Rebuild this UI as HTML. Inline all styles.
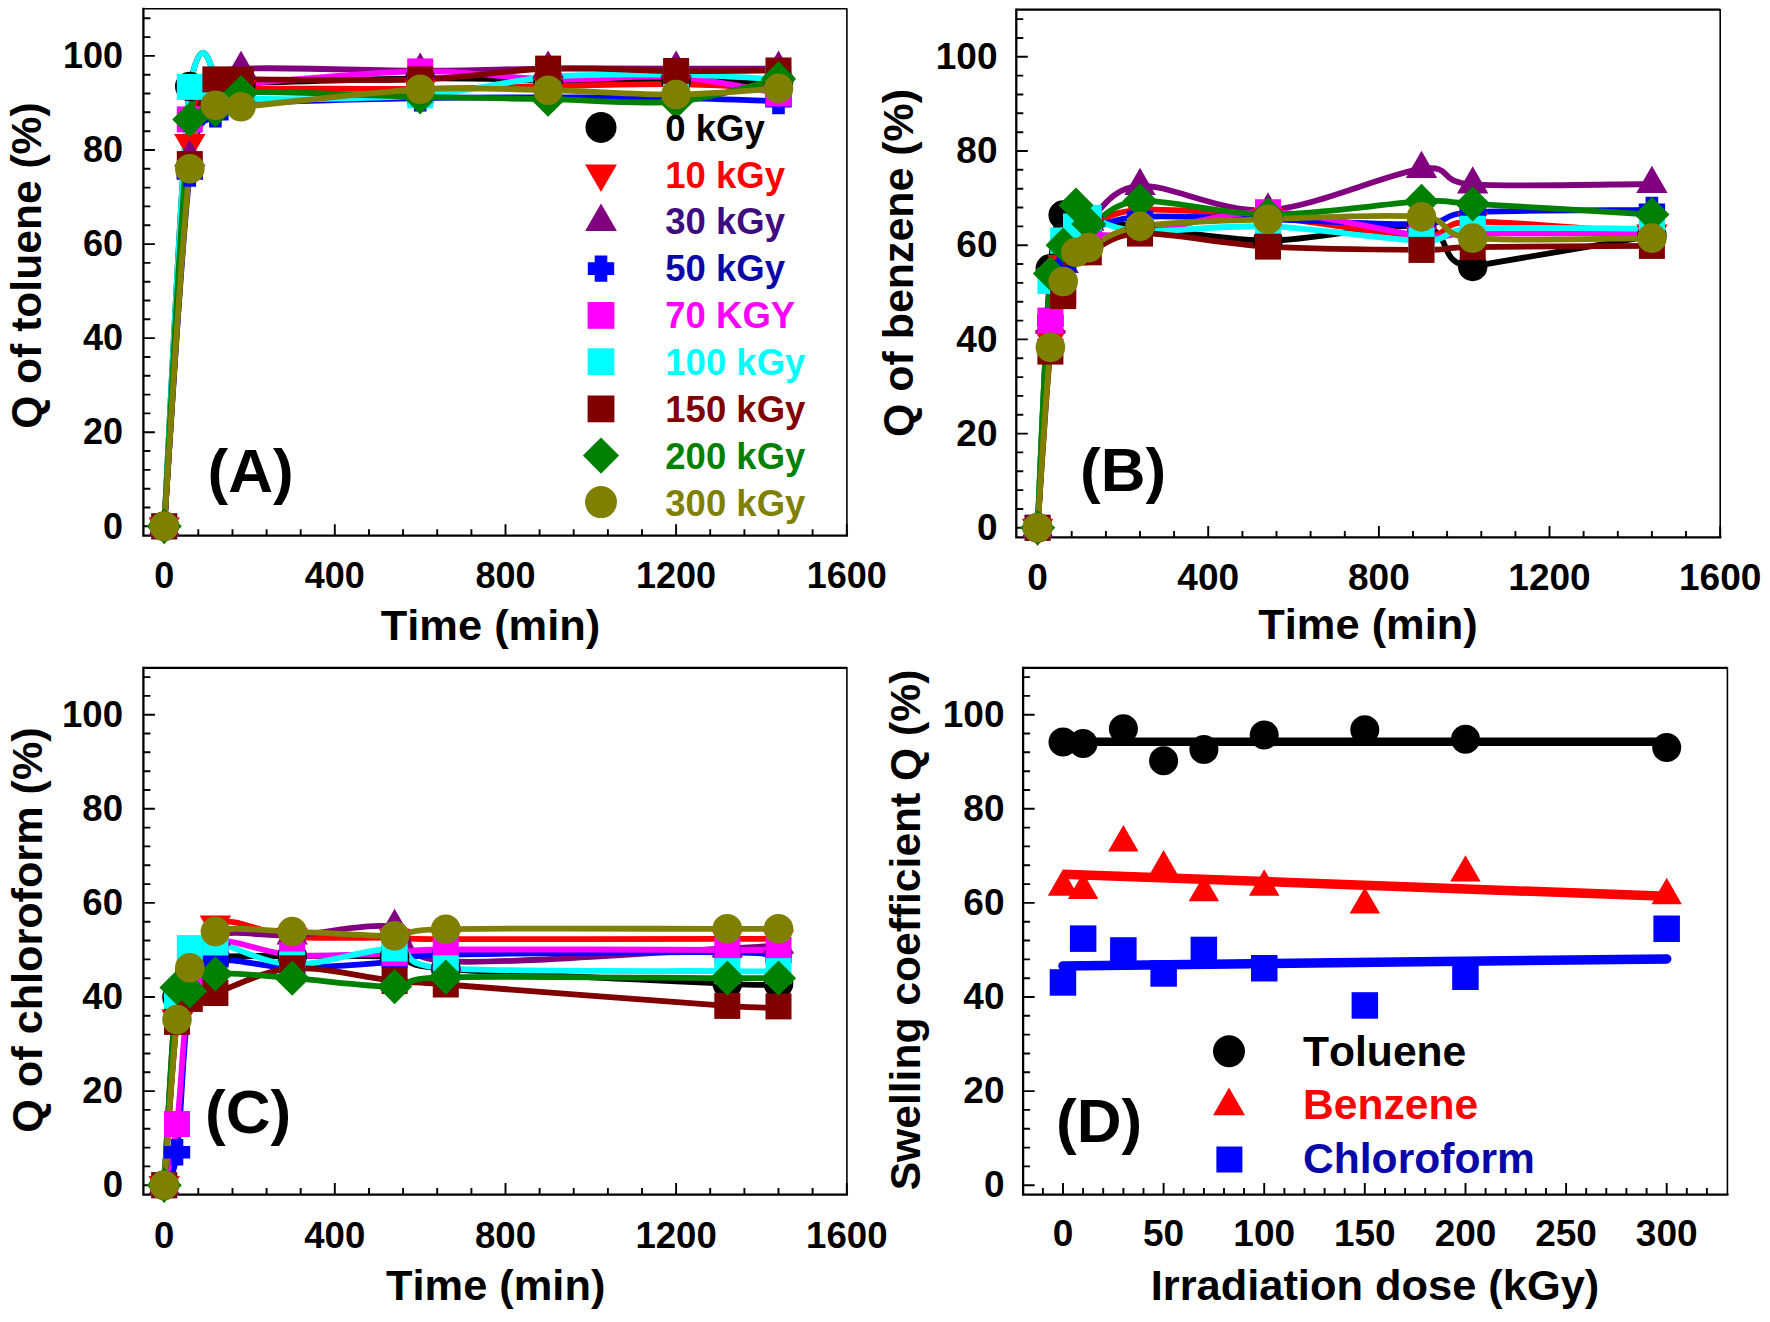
<!DOCTYPE html>
<html><head><meta charset="utf-8"><title>Swelling coefficient Q</title>
<style>html,body{margin:0;padding:0;background:#fff}svg{display:block}text{font-family:'Liberation Sans', Arial, Helvetica, sans-serif;font-weight:bold;fill:#000;font-kerning:none;font-variant-ligatures:none}</style>
</head><body>
<svg width="1770" height="1322" viewBox="0 0 1770 1322">
<rect width="1770" height="1322" fill="#fff"/>
<g id="panelA">
<path d="M143.4,8.8 H846.9" fill="none" stroke="#000" stroke-width="1.4"/>
<path d="M846.9,8.2 V535.7" fill="none" stroke="#000" stroke-width="1.6"/>
<path d="M143.4,8.8 V535.7 H846.9" fill="none" stroke="#000" stroke-width="2.3" stroke-linecap="square"/>
<path d="M143.4,526.3h11.5M143.4,507.5h7M143.4,488.7h7M143.4,469.9h7M143.4,451h7M143.4,432.2h11.5M143.4,413.4h7M143.4,394.6h7M143.4,375.8h7M143.4,357h7M143.4,338.1h11.5M143.4,319.3h7M143.4,300.5h7M143.4,281.7h7M143.4,262.9h7M143.4,244.1h11.5M143.4,225.2h7M143.4,206.4h7M143.4,187.6h7M143.4,168.8h7M143.4,150h11.5M143.4,131.2h7M143.4,112.3h7M143.4,93.5h7M143.4,74.7h7M143.4,55.9h11.5M143.4,37.1h7M143.4,18.3h7M164.2,535.7v-11.5M198.3,535.7v-6.5M232.5,535.7v-6.5M266.6,535.7v-6.5M300.7,535.7v-6.5M334.8,535.7v-11.5M369,535.7v-6.5M403.1,535.7v-6.5M437.2,535.7v-6.5M471.4,535.7v-6.5M505.5,535.7v-11.5M539.6,535.7v-6.5M573.7,535.7v-6.5M607.9,535.7v-6.5M642,535.7v-6.5M676.1,535.7v-11.5M710.2,535.7v-6.5M744.4,535.7v-6.5M778.5,535.7v-6.5M812.6,535.7v-6.5M846.8,535.7v-11.5" stroke="#000" stroke-width="1.9" fill="none"/>
<text x="123" y="538.5" text-anchor="end" font-size="36">0</text>
<text x="123" y="444.4" text-anchor="end" font-size="36">20</text>
<text x="123" y="350.3" text-anchor="end" font-size="36">40</text>
<text x="123" y="256.3" text-anchor="end" font-size="36">60</text>
<text x="123" y="162.2" text-anchor="end" font-size="36">80</text>
<text x="123" y="68.1" text-anchor="end" font-size="36">100</text>
<text x="164.2" y="588.3" text-anchor="middle" font-size="36">0</text>
<text x="334.8" y="588.3" text-anchor="middle" font-size="36">400</text>
<text x="505.5" y="588.3" text-anchor="middle" font-size="36">800</text>
<text x="676.1" y="588.3" text-anchor="middle" font-size="36">1200</text>
<text x="846.8" y="588.3" text-anchor="middle" font-size="36">1600</text>
<text x="490.5" y="640.3" text-anchor="middle" font-size="43.4">Time (min)</text>
<text transform="translate(40.5,265.6) rotate(-90)" text-anchor="middle" font-size="42.6">Q of toluene (%)</text>
<text x="207.5" y="491.7" font-size="62">(A)</text>
<path d="M164.2,526.3 C168.5,453 181.3,160.2 189.8,86.5 C198.3,42 206.9,42 215.4,84.1 C223.9,83.6 206.9,84.1 241,83.2 C275.1,82.2 369,79 420.2,78.5 C471.4,77.9 505.5,79.5 548.1,79.9 C590.8,80.3 637.7,80.5 676.1,80.8 C714.5,81.1 761.4,81.6 778.5,81.8" fill="none" stroke="#000000" stroke-width="5.8" stroke-linejoin="round"/>
<path d="M164.2,526.3 C168.5,462.4 181.3,215.1 189.8,142.9 C198.3,70.8 206.9,102.5 215.4,93.5 C223.9,84.5 206.9,89.6 241,88.8 C275.1,88 369,89.3 420.2,88.8 C471.4,88.4 505.5,86.8 548.1,86 C590.8,85.2 637.7,83.7 676.1,84.1 C714.5,84.6 761.4,88 778.5,88.8" fill="none" stroke="#ff0000" stroke-width="5.8" stroke-linejoin="round"/>
<path d="M164.2,526.3 C168.5,464.8 181.3,231.2 189.8,157.5 C198.3,83.8 206.9,98.9 215.4,84.1 C223.9,69.3 206.9,71.1 241,68.8 C275.1,66.6 369,70.8 420.2,70.7 C471.4,70.7 505.5,69 548.1,68.6 C590.8,68.2 637.7,68.6 676.1,68.6 C714.5,68.6 761.4,68.6 778.5,68.6" fill="none" stroke="#800080" stroke-width="5.8" stroke-linejoin="round"/>
<path d="M164.2,526.3 C168.5,467.5 181.3,242.2 189.8,173.5 C198.3,104.8 206.9,125.9 215.4,114.2 C223.9,102.6 206.9,106.3 241,103.6 C275.1,101 369,99.3 420.2,98.2 C471.4,97.2 505.5,97.3 548.1,97.3 C590.8,97.3 637.7,97.6 676.1,98.2 C714.5,98.9 761.4,100.6 778.5,101.1" fill="none" stroke="#0000ff" stroke-width="5.8" stroke-linejoin="round"/>
<path d="M164.2,526.3 C168.5,458.5 181.3,192.3 189.8,119.4 C198.3,46.5 206.9,94.7 215.4,88.8 C223.9,82.9 206.9,87 241,84.1 C275.1,81.2 369,72.2 420.2,71.4 C471.4,70.6 505.5,78.5 548.1,79.4 C590.8,80.4 637.7,74.7 676.1,77.1 C714.5,79.4 761.4,90.8 778.5,93.5" fill="none" stroke="#ff00ff" stroke-width="5.8" stroke-linejoin="round"/>
<path d="M164.2,526.3 C168.5,453.1 181.3,160.6 189.8,86.9 C198.3,42 206.9,42 215.4,84.1 C223.9,86 206.9,96.4 241,98.2 C275.1,100.1 369,98.9 420.2,95.4 C471.4,91.9 505.5,80.5 548.1,77.1 C590.8,73.6 637.7,74.3 676.1,74.7 C714.5,75.1 761.4,78.6 778.5,79.4" fill="none" stroke="#00ffff" stroke-width="5.8" stroke-linejoin="round"/>
<path d="M164.2,526.3 C168.5,465.9 181.3,238.6 189.8,164.1 C198.3,89.6 206.9,93.5 215.4,79.4 C223.9,65.3 206.9,79.4 241,79.4 C275.1,79.4 369,81.2 420.2,79.4 C471.4,77.6 505.5,70 548.1,68.6 C590.8,67.2 637.7,70.6 676.1,71 C714.5,71.3 761.4,70.6 778.5,70.5" fill="none" stroke="#800000" stroke-width="5.8" stroke-linejoin="round"/>
<path d="M164.2,526.3 C168.5,458.5 181.3,188.8 189.8,119.4 C198.3,50 206.9,114.5 215.4,110 C223.9,105.5 206.9,94.8 241,92.6 C275.1,90.4 369,95.7 420.2,96.8 C471.4,97.9 505.5,98.4 548.1,99.2 C590.8,100 637.7,104.9 676.1,101.5 C714.5,98.2 761.4,82.7 778.5,78.9" fill="none" stroke="#008000" stroke-width="5.8" stroke-linejoin="round"/>
<path d="M164.2,526.3 C168.5,466.7 181.3,239 189.8,168.8 C198.3,98.6 206.9,115.6 215.4,105.3 C223.9,94.9 206.9,109.4 241,106.7 C275.1,104 369,92 420.2,89.3 C471.4,86.6 505.5,89.4 548.1,90.2 C590.8,91.1 637.7,94.8 676.1,94.5 C714.5,94.2 761.4,89.4 778.5,88.4" fill="none" stroke="#808000" stroke-width="5.8" stroke-linejoin="round"/>
<circle cx="164.2" cy="526.3" r="14.8" fill="#000000"/>
<circle cx="189.8" cy="86.5" r="14.8" fill="#000000"/>
<circle cx="215.4" cy="84.1" r="14.8" fill="#000000"/>
<circle cx="241" cy="83.2" r="14.8" fill="#000000"/>
<circle cx="420.2" cy="78.5" r="14.8" fill="#000000"/>
<circle cx="548.1" cy="79.9" r="14.8" fill="#000000"/>
<circle cx="676.1" cy="80.8" r="14.8" fill="#000000"/>
<circle cx="778.5" cy="81.8" r="14.8" fill="#000000"/>
<polygon points="164.2,544.4 179.9,517.2 148.5,517.2" fill="#ff0000"/>
<polygon points="189.8,161.1 205.5,133.9 174.1,133.9" fill="#ff0000"/>
<polygon points="215.4,111.7 231.1,84.5 199.7,84.5" fill="#ff0000"/>
<polygon points="241,107 256.7,79.8 225.3,79.8" fill="#ff0000"/>
<polygon points="420.2,107 435.9,79.8 404.5,79.8" fill="#ff0000"/>
<polygon points="548.1,104.1 563.8,76.9 532.4,76.9" fill="#ff0000"/>
<polygon points="676.1,102.3 691.8,75.1 660.4,75.1" fill="#ff0000"/>
<polygon points="778.5,107 794.2,79.8 762.8,79.8" fill="#ff0000"/>
<polygon points="164.2,508.2 179.9,535.4 148.5,535.4" fill="#800080"/>
<polygon points="189.8,139.4 205.5,166.6 174.1,166.6" fill="#800080"/>
<polygon points="215.4,66 231.1,93.2 199.7,93.2" fill="#800080"/>
<polygon points="241,50.7 256.7,77.9 225.3,77.9" fill="#800080"/>
<polygon points="420.2,52.6 435.9,79.8 404.5,79.8" fill="#800080"/>
<polygon points="548.1,50.5 563.8,77.7 532.4,77.7" fill="#800080"/>
<polygon points="676.1,50.5 691.8,77.7 660.4,77.7" fill="#800080"/>
<polygon points="778.5,50.5 794.2,77.7 762.8,77.7" fill="#800080"/>
<polygon points="157.9,513.1 170.5,513.1 170.5,520 177.4,520 177.4,532.6 170.5,532.6 170.5,539.5 157.9,539.5 157.9,532.6 151,532.6 151,520 157.9,520" fill="#0000ff"/>
<polygon points="183.5,160.3 196.1,160.3 196.1,167.2 203,167.2 203,179.8 196.1,179.8 196.1,186.7 183.5,186.7 183.5,179.8 176.6,179.8 176.6,167.2 183.5,167.2" fill="#0000ff"/>
<polygon points="209.1,101 221.7,101 221.7,107.9 228.6,107.9 228.6,120.5 221.7,120.5 221.7,127.4 209.1,127.4 209.1,120.5 202.2,120.5 202.2,107.9 209.1,107.9" fill="#0000ff"/>
<polygon points="234.7,90.4 247.3,90.4 247.3,97.3 254.2,97.3 254.2,109.9 247.3,109.9 247.3,116.8 234.7,116.8 234.7,109.9 227.8,109.9 227.8,97.3 234.7,97.3" fill="#0000ff"/>
<polygon points="413.9,85 426.5,85 426.5,91.9 433.4,91.9 433.4,104.5 426.5,104.5 426.5,111.4 413.9,111.4 413.9,104.5 407,104.5 407,91.9 413.9,91.9" fill="#0000ff"/>
<polygon points="541.8,84.1 554.4,84.1 554.4,91 561.3,91 561.3,103.6 554.4,103.6 554.4,110.5 541.8,110.5 541.8,103.6 534.9,103.6 534.9,91 541.8,91" fill="#0000ff"/>
<polygon points="669.8,85 682.4,85 682.4,91.9 689.3,91.9 689.3,104.5 682.4,104.5 682.4,111.4 669.8,111.4 669.8,104.5 662.9,104.5 662.9,91.9 669.8,91.9" fill="#0000ff"/>
<polygon points="772.2,87.9 784.8,87.9 784.8,94.8 791.7,94.8 791.7,107.4 784.8,107.4 784.8,114.3 772.2,114.3 772.2,107.4 765.3,107.4 765.3,94.8 772.2,94.8" fill="#0000ff"/>
<rect x="151.2" y="513.3" width="26" height="26" fill="#ff00ff"/>
<rect x="176.8" y="106.4" width="26" height="26" fill="#ff00ff"/>
<rect x="202.4" y="75.8" width="26" height="26" fill="#ff00ff"/>
<rect x="228" y="71.1" width="26" height="26" fill="#ff00ff"/>
<rect x="407.2" y="58.4" width="26" height="26" fill="#ff00ff"/>
<rect x="535.1" y="66.4" width="26" height="26" fill="#ff00ff"/>
<rect x="663.1" y="64.1" width="26" height="26" fill="#ff00ff"/>
<rect x="765.5" y="80.5" width="26" height="26" fill="#ff00ff"/>
<rect x="151.2" y="513.3" width="26" height="26" fill="#00ffff"/>
<rect x="176.8" y="73.9" width="26" height="26" fill="#00ffff"/>
<rect x="202.4" y="71.1" width="26" height="26" fill="#00ffff"/>
<rect x="228" y="85.2" width="26" height="26" fill="#00ffff"/>
<rect x="407.2" y="82.4" width="26" height="26" fill="#00ffff"/>
<rect x="535.1" y="64.1" width="26" height="26" fill="#00ffff"/>
<rect x="663.1" y="61.7" width="26" height="26" fill="#00ffff"/>
<rect x="765.5" y="66.4" width="26" height="26" fill="#00ffff"/>
<rect x="151.2" y="513.3" width="26" height="26" fill="#800000"/>
<rect x="176.8" y="151.1" width="26" height="26" fill="#800000"/>
<rect x="202.4" y="66.4" width="26" height="26" fill="#800000"/>
<rect x="228" y="66.4" width="26" height="26" fill="#800000"/>
<rect x="407.2" y="66.4" width="26" height="26" fill="#800000"/>
<rect x="535.1" y="55.6" width="26" height="26" fill="#800000"/>
<rect x="663.1" y="58" width="26" height="26" fill="#800000"/>
<rect x="765.5" y="57.5" width="26" height="26" fill="#800000"/>
<polygon points="164.2,508.7 181.8,526.3 164.2,543.9 146.6,526.3" fill="#008000"/>
<polygon points="189.8,101.8 207.4,119.4 189.8,137 172.2,119.4" fill="#008000"/>
<polygon points="215.4,92.4 233,110 215.4,127.6 197.8,110" fill="#008000"/>
<polygon points="241,75 258.6,92.6 241,110.2 223.4,92.6" fill="#008000"/>
<polygon points="420.2,79.2 437.8,96.8 420.2,114.4 402.6,96.8" fill="#008000"/>
<polygon points="548.1,81.6 565.7,99.2 548.1,116.8 530.5,99.2" fill="#008000"/>
<polygon points="676.1,83.9 693.7,101.5 676.1,119.1 658.5,101.5" fill="#008000"/>
<polygon points="778.5,61.3 796.1,78.9 778.5,96.5 760.9,78.9" fill="#008000"/>
<circle cx="164.2" cy="526.3" r="14.8" fill="#808000"/>
<circle cx="189.8" cy="168.8" r="14.8" fill="#808000"/>
<circle cx="215.4" cy="105.3" r="14.8" fill="#808000"/>
<circle cx="241" cy="106.7" r="14.8" fill="#808000"/>
<circle cx="420.2" cy="89.3" r="14.8" fill="#808000"/>
<circle cx="548.1" cy="90.2" r="14.8" fill="#808000"/>
<circle cx="676.1" cy="94.5" r="14.8" fill="#808000"/>
<circle cx="778.5" cy="88.4" r="14.8" fill="#808000"/>
<circle cx="601" cy="127.4" r="15.5" fill="#000000"/>
<text x="665.3" y="140.6" font-size="36.5" style="fill:#000000">0 kGy</text>
<polygon points="601,191.9 616.9,164.4 585.1,164.4" fill="#ff0000"/>
<text x="665.3" y="187.5" font-size="36.5" style="fill:#ff0000">10 kGy</text>
<polygon points="601,203.5 616.9,231 585.1,231" fill="#800080"/>
<text x="665.3" y="234.4" font-size="36.5" style="fill:#3f0c80">30 kGy</text>
<polygon points="594.7,255.4 607.3,255.4 607.3,262.3 614.2,262.3 614.2,274.9 607.3,274.9 607.3,281.8 594.7,281.8 594.7,274.9 587.8,274.9 587.8,262.3 594.7,262.3" fill="#0000ff"/>
<text x="665.3" y="281.3" font-size="36.5" style="fill:#0808a8">50 kGy</text>
<rect x="587.6" y="302" width="26.8" height="26.8" fill="#ff00ff"/>
<text x="665.3" y="328.2" font-size="36.5" style="fill:#ff00ff">70 KGY</text>
<rect x="587.6" y="348.3" width="26.8" height="26.8" fill="#00ffff"/>
<text x="665.3" y="375.1" font-size="36.5" style="fill:#00ffff">100 kGy</text>
<rect x="587.6" y="395.5" width="26.8" height="26.8" fill="#800000"/>
<text x="665.3" y="422" font-size="36.5" style="fill:#800000">150 kGy</text>
<polygon points="601,437.5 619.1,455.6 601,473.7 582.9,455.6" fill="#008000"/>
<text x="665.3" y="468.9" font-size="36.5" style="fill:#008000">200 kGy</text>
<circle cx="601" cy="502.1" r="16" fill="#808000"/>
<text x="665.3" y="515.8" font-size="36.5" style="fill:#808000">300 kGy</text>
</g>
<g id="panelB">
<path d="M1016.3,9.6 H1720.2" fill="none" stroke="#000" stroke-width="2.2"/>
<path d="M1720.2,8.9 V537.4" fill="none" stroke="#000" stroke-width="1.6"/>
<path d="M1016.3,9.6 V537.4 H1720.2" fill="none" stroke="#000" stroke-width="2.3" stroke-linecap="square"/>
<path d="M1016.3,527.8h11.5M1016.3,509h7M1016.3,490.1h7M1016.3,471.3h7M1016.3,452.4h7M1016.3,433.6h11.5M1016.3,414.8h7M1016.3,395.9h7M1016.3,377.1h7M1016.3,358.2h7M1016.3,339.4h11.5M1016.3,320.6h7M1016.3,301.7h7M1016.3,282.9h7M1016.3,264h7M1016.3,245.2h11.5M1016.3,226.4h7M1016.3,207.5h7M1016.3,188.7h7M1016.3,169.8h7M1016.3,151h11.5M1016.3,132.2h7M1016.3,113.3h7M1016.3,94.5h7M1016.3,75.6h7M1016.3,56.8h11.5M1016.3,38h7M1016.3,19.1h7M1037.6,537.4v-11.5M1071.7,537.4v-6.5M1105.9,537.4v-6.5M1140,537.4v-6.5M1174.1,537.4v-6.5M1208.2,537.4v-11.5M1242.4,537.4v-6.5M1276.5,537.4v-6.5M1310.6,537.4v-6.5M1344.8,537.4v-6.5M1378.9,537.4v-11.5M1413,537.4v-6.5M1447.1,537.4v-6.5M1481.3,537.4v-6.5M1515.4,537.4v-6.5M1549.5,537.4v-11.5M1583.6,537.4v-6.5M1617.8,537.4v-6.5M1651.9,537.4v-6.5M1686,537.4v-6.5M1720.2,537.4v-11.5" stroke="#000" stroke-width="1.9" fill="none"/>
<text x="997.5" y="540" text-anchor="end" font-size="37">0</text>
<text x="997.5" y="445.8" text-anchor="end" font-size="37">20</text>
<text x="997.5" y="351.6" text-anchor="end" font-size="37">40</text>
<text x="997.5" y="257.4" text-anchor="end" font-size="37">60</text>
<text x="997.5" y="163.2" text-anchor="end" font-size="37">80</text>
<text x="997.5" y="69" text-anchor="end" font-size="37">100</text>
<text x="1037.6" y="589.5" text-anchor="middle" font-size="37">0</text>
<text x="1208.2" y="589.5" text-anchor="middle" font-size="37">400</text>
<text x="1378.9" y="589.5" text-anchor="middle" font-size="37">800</text>
<text x="1549.5" y="589.5" text-anchor="middle" font-size="37">1200</text>
<text x="1720.2" y="589.5" text-anchor="middle" font-size="37">1600</text>
<text x="1368" y="639" text-anchor="middle" font-size="43.4">Time (min)</text>
<text transform="translate(913,263) rotate(-90)" text-anchor="middle" font-size="42.9">Q of benzene (%)</text>
<text x="1080" y="491" font-size="62">(B)</text>
<path d="M1037.6,527.8 C1039.7,484.6 1046.1,320.9 1050.4,268.7 C1054.7,216.6 1058.9,222.9 1063.2,215.1 C1067.5,207.2 1071.7,220.6 1076,221.6 C1080.3,222.7 1078.1,220.9 1088.8,221.6 C1099.5,222.4 1110.1,223.2 1140,226.4 C1169.8,229.5 1221,240.5 1268,240.5 C1314.9,240.5 1387.4,222 1421.5,226.4 C1455.7,230.7 1434.3,264.8 1472.7,266.4 C1532.5,256.2 1592.2,246 1651.9,235.8" fill="none" stroke="#000000" stroke-width="5.8" stroke-linejoin="round"/>
<path d="M1037.6,527.8 C1039.7,496.4 1046.1,383.4 1050.4,339.4 C1054.7,295.4 1058.9,281.3 1063.2,264 C1067.5,246.8 1071.7,242.1 1076,235.8 C1080.3,229.5 1078.1,230.7 1088.8,226.4 C1099.5,222 1110.1,211.4 1140,209.9 C1169.8,208.3 1221,212.6 1268,216.9 C1314.9,221.3 1387.4,235 1421.5,235.8 C1455.7,236.6 1434.3,222 1472.7,221.6 C1511.1,221.3 1622,231.5 1651.9,233.4" fill="none" stroke="#ff0000" stroke-width="5.8" stroke-linejoin="round"/>
<path d="M1037.6,527.8 C1039.7,493.9 1046.1,368.3 1050.4,324.3 C1054.7,280.4 1058.9,278.8 1063.2,264 C1067.5,249.3 1071.7,242.8 1076,235.8 C1080.3,228.7 1078.1,230 1088.8,221.6 C1099.5,213.3 1110.1,187.7 1140,185.9 C1169.8,184 1221,213.2 1268,210.3 C1314.9,207.5 1387.4,173.2 1421.5,168.9 C1455.7,164.6 1434.3,181.9 1472.7,184.4 C1511.1,187 1622,184 1651.9,184" fill="none" stroke="#800080" stroke-width="5.8" stroke-linejoin="round"/>
<path d="M1037.6,527.8 C1039.7,493.3 1046.1,364.1 1050.4,320.6 C1054.7,277 1058.9,279 1063.2,266.4 C1067.5,253.8 1071.7,251.1 1076,245.2 C1080.3,239.3 1078.1,235.8 1088.8,231.1 C1099.5,226.4 1110.1,218.9 1140,216.9 C1169.8,215 1221,218.1 1268,219.3 C1314.9,220.5 1387.4,225.2 1421.5,224 C1455.7,222.8 1434.3,214.6 1472.7,212.2 C1511.1,209.9 1622,210.3 1651.9,209.9" fill="none" stroke="#0000ff" stroke-width="5.8" stroke-linejoin="round"/>
<path d="M1037.6,527.8 C1039.7,493.3 1046.1,359.8 1050.4,320.6 C1054.7,281.3 1058.9,304.9 1063.2,292.3 C1067.5,279.7 1071.7,254.6 1076,245.2 C1080.3,235.8 1078.1,237.7 1088.8,235.8 C1099.5,233.8 1110.1,237.3 1140,233.4 C1169.8,229.5 1221,211.8 1268,212.2 C1314.9,212.6 1387.4,232.2 1421.5,235.8 C1455.7,239.3 1434.3,233.8 1472.7,233.4 C1511.1,233 1622,233.4 1651.9,233.4" fill="none" stroke="#ff00ff" stroke-width="5.8" stroke-linejoin="round"/>
<path d="M1037.6,527.8 C1039.7,486.7 1046.1,328.9 1050.4,281 C1054.7,233.1 1058.9,249.6 1063.2,240.5 C1067.5,231.4 1071.7,230.1 1076,226.4 C1080.3,222.6 1078.1,217.1 1088.8,217.9 C1099.5,218.7 1110.1,229.7 1140,231.1 C1169.8,232.5 1221,224.8 1268,226.4 C1314.9,227.9 1387.4,240.1 1421.5,240.5 C1455.7,240.9 1434.3,230.7 1472.7,228.7 C1511.1,226.8 1622,228.7 1651.9,228.7" fill="none" stroke="#00ffff" stroke-width="5.8" stroke-linejoin="round"/>
<path d="M1037.6,527.8 C1039.7,498.4 1046.1,390.3 1050.4,351.6 C1054.7,313 1058.9,312.6 1063.2,296.1 C1067.5,279.5 1071.7,259.6 1076,252.3 C1080.3,245 1078.1,255.4 1088.8,252.3 C1099.5,249.1 1110.1,234.4 1140,233.4 C1169.8,232.5 1221,243.9 1268,246.6 C1314.9,249.4 1387.4,249.8 1421.5,249.9 C1455.7,250 1434.3,247.8 1472.7,247.1 C1511.1,246.4 1622,246.1 1651.9,245.9" fill="none" stroke="#800000" stroke-width="5.8" stroke-linejoin="round"/>
<path d="M1037.6,527.8 C1039.7,485.4 1046.1,320.6 1050.4,273.5 C1054.7,226.4 1058.9,256.6 1063.2,245.2 C1067.5,233.8 1071.7,208.7 1076,205.2 C1080.3,201.6 1078.1,224.7 1088.8,224 C1099.5,223.3 1110.1,202.5 1140,200.9 C1169.8,199.4 1221,214.5 1268,214.6 C1314.9,214.7 1387.4,203.2 1421.5,201.4 C1455.7,199.6 1434.3,201.6 1472.7,203.8 C1511.1,205.9 1622,212.8 1651.9,214.6" fill="none" stroke="#008000" stroke-width="5.8" stroke-linejoin="round"/>
<path d="M1037.6,527.8 C1039.7,497.7 1046.1,388.5 1050.4,347.4 C1054.7,306.4 1058.9,297.3 1063.2,281.5 C1067.5,265.6 1071.7,257.9 1076,252.3 C1080.3,246.6 1078.1,251.9 1088.8,247.6 C1099.5,243.2 1110.1,231.1 1140,226.4 C1169.8,221.6 1221,220.9 1268,219.3 C1314.9,217.7 1387.4,213.8 1421.5,216.9 C1455.7,220.1 1434.3,234.6 1472.7,238.1 C1511.1,241.7 1622,238.1 1651.9,238.1" fill="none" stroke="#808000" stroke-width="5.8" stroke-linejoin="round"/>
<circle cx="1037.6" cy="527.8" r="14.8" fill="#000000"/>
<circle cx="1050.4" cy="268.7" r="14.8" fill="#000000"/>
<circle cx="1063.2" cy="215.1" r="14.8" fill="#000000"/>
<circle cx="1076" cy="221.6" r="14.8" fill="#000000"/>
<circle cx="1088.8" cy="221.6" r="14.8" fill="#000000"/>
<circle cx="1140" cy="226.4" r="14.8" fill="#000000"/>
<circle cx="1268" cy="240.5" r="14.8" fill="#000000"/>
<circle cx="1421.5" cy="226.4" r="14.8" fill="#000000"/>
<circle cx="1472.7" cy="266.4" r="14.8" fill="#000000"/>
<circle cx="1651.9" cy="235.8" r="14.8" fill="#000000"/>
<polygon points="1037.6,545.9 1053.3,518.7 1021.9,518.7" fill="#ff0000"/>
<polygon points="1050.4,357.5 1066.1,330.3 1034.7,330.3" fill="#ff0000"/>
<polygon points="1063.2,282.2 1078.9,255 1047.5,255" fill="#ff0000"/>
<polygon points="1076,253.9 1091.7,226.7 1060.3,226.7" fill="#ff0000"/>
<polygon points="1088.8,244.5 1104.5,217.3 1073.1,217.3" fill="#ff0000"/>
<polygon points="1140,228 1155.7,200.8 1124.3,200.8" fill="#ff0000"/>
<polygon points="1268,235.1 1283.7,207.9 1252.3,207.9" fill="#ff0000"/>
<polygon points="1421.5,253.9 1437.2,226.7 1405.8,226.7" fill="#ff0000"/>
<polygon points="1472.7,239.8 1488.4,212.6 1457,212.6" fill="#ff0000"/>
<polygon points="1651.9,251.6 1667.6,224.4 1636.2,224.4" fill="#ff0000"/>
<polygon points="1037.6,509.7 1053.3,536.9 1021.9,536.9" fill="#800080"/>
<polygon points="1050.4,306.2 1066.1,333.4 1034.7,333.4" fill="#800080"/>
<polygon points="1063.2,245.9 1078.9,273.1 1047.5,273.1" fill="#800080"/>
<polygon points="1076,217.7 1091.7,244.8 1060.3,244.8" fill="#800080"/>
<polygon points="1088.8,203.5 1104.5,230.7 1073.1,230.7" fill="#800080"/>
<polygon points="1140,167.7 1155.7,194.9 1124.3,194.9" fill="#800080"/>
<polygon points="1268,192.2 1283.7,219.4 1252.3,219.4" fill="#800080"/>
<polygon points="1421.5,150.8 1437.2,178 1405.8,178" fill="#800080"/>
<polygon points="1472.7,166.3 1488.4,193.5 1457,193.5" fill="#800080"/>
<polygon points="1651.9,165.8 1667.6,193 1636.2,193" fill="#800080"/>
<polygon points="1031.3,514.6 1043.9,514.6 1043.9,521.5 1050.8,521.5 1050.8,534.1 1043.9,534.1 1043.9,541 1031.3,541 1031.3,534.1 1024.4,534.1 1024.4,521.5 1031.3,521.5" fill="#0000ff"/>
<polygon points="1044.1,307.4 1056.7,307.4 1056.7,314.3 1063.6,314.3 1063.6,326.9 1056.7,326.9 1056.7,333.8 1044.1,333.8 1044.1,326.9 1037.2,326.9 1037.2,314.3 1044.1,314.3" fill="#0000ff"/>
<polygon points="1056.9,253.2 1069.5,253.2 1069.5,260.1 1076.4,260.1 1076.4,272.7 1069.5,272.7 1069.5,279.6 1056.9,279.6 1056.9,272.7 1050,272.7 1050,260.1 1056.9,260.1" fill="#0000ff"/>
<polygon points="1069.7,232 1082.3,232 1082.3,238.9 1089.2,238.9 1089.2,251.5 1082.3,251.5 1082.3,258.4 1069.7,258.4 1069.7,251.5 1062.8,251.5 1062.8,238.9 1069.7,238.9" fill="#0000ff"/>
<polygon points="1082.5,217.9 1095.1,217.9 1095.1,224.8 1102,224.8 1102,237.4 1095.1,237.4 1095.1,244.3 1082.5,244.3 1082.5,237.4 1075.6,237.4 1075.6,224.8 1082.5,224.8" fill="#0000ff"/>
<polygon points="1133.7,203.7 1146.3,203.7 1146.3,210.6 1153.2,210.6 1153.2,223.2 1146.3,223.2 1146.3,230.1 1133.7,230.1 1133.7,223.2 1126.8,223.2 1126.8,210.6 1133.7,210.6" fill="#0000ff"/>
<polygon points="1261.7,206.1 1274.3,206.1 1274.3,213 1281.2,213 1281.2,225.6 1274.3,225.6 1274.3,232.5 1261.7,232.5 1261.7,225.6 1254.8,225.6 1254.8,213 1261.7,213" fill="#0000ff"/>
<polygon points="1415.2,210.8 1427.8,210.8 1427.8,217.7 1434.7,217.7 1434.7,230.3 1427.8,230.3 1427.8,237.2 1415.2,237.2 1415.2,230.3 1408.3,230.3 1408.3,217.7 1415.2,217.7" fill="#0000ff"/>
<polygon points="1466.4,199 1479,199 1479,205.9 1485.9,205.9 1485.9,218.5 1479,218.5 1479,225.4 1466.4,225.4 1466.4,218.5 1459.5,218.5 1459.5,205.9 1466.4,205.9" fill="#0000ff"/>
<polygon points="1645.6,196.7 1658.2,196.7 1658.2,203.6 1665.1,203.6 1665.1,216.2 1658.2,216.2 1658.2,223.1 1645.6,223.1 1645.6,216.2 1638.7,216.2 1638.7,203.6 1645.6,203.6" fill="#0000ff"/>
<rect x="1024.6" y="514.8" width="26" height="26" fill="#ff00ff"/>
<rect x="1037.4" y="307.6" width="26" height="26" fill="#ff00ff"/>
<rect x="1050.2" y="279.3" width="26" height="26" fill="#ff00ff"/>
<rect x="1063" y="232.2" width="26" height="26" fill="#ff00ff"/>
<rect x="1075.8" y="222.8" width="26" height="26" fill="#ff00ff"/>
<rect x="1127" y="220.4" width="26" height="26" fill="#ff00ff"/>
<rect x="1255" y="199.2" width="26" height="26" fill="#ff00ff"/>
<rect x="1408.5" y="222.8" width="26" height="26" fill="#ff00ff"/>
<rect x="1459.7" y="220.4" width="26" height="26" fill="#ff00ff"/>
<rect x="1638.9" y="220.4" width="26" height="26" fill="#ff00ff"/>
<rect x="1024.6" y="514.8" width="26" height="26" fill="#00ffff"/>
<rect x="1037.4" y="268" width="26" height="26" fill="#00ffff"/>
<rect x="1050.2" y="227.5" width="26" height="26" fill="#00ffff"/>
<rect x="1063" y="213.4" width="26" height="26" fill="#00ffff"/>
<rect x="1075.8" y="204.9" width="26" height="26" fill="#00ffff"/>
<rect x="1127" y="218.1" width="26" height="26" fill="#00ffff"/>
<rect x="1255" y="213.4" width="26" height="26" fill="#00ffff"/>
<rect x="1408.5" y="227.5" width="26" height="26" fill="#00ffff"/>
<rect x="1459.7" y="215.7" width="26" height="26" fill="#00ffff"/>
<rect x="1638.9" y="215.7" width="26" height="26" fill="#00ffff"/>
<rect x="1024.6" y="514.8" width="26" height="26" fill="#800000"/>
<rect x="1037.4" y="338.6" width="26" height="26" fill="#800000"/>
<rect x="1050.2" y="283.1" width="26" height="26" fill="#800000"/>
<rect x="1063" y="239.3" width="26" height="26" fill="#800000"/>
<rect x="1075.8" y="239.3" width="26" height="26" fill="#800000"/>
<rect x="1127" y="220.4" width="26" height="26" fill="#800000"/>
<rect x="1255" y="233.6" width="26" height="26" fill="#800000"/>
<rect x="1408.5" y="236.9" width="26" height="26" fill="#800000"/>
<rect x="1459.7" y="234.1" width="26" height="26" fill="#800000"/>
<rect x="1638.9" y="232.9" width="26" height="26" fill="#800000"/>
<polygon points="1037.6,510.2 1055.2,527.8 1037.6,545.4 1020,527.8" fill="#008000"/>
<polygon points="1050.4,255.9 1068,273.5 1050.4,291.1 1032.8,273.5" fill="#008000"/>
<polygon points="1063.2,227.6 1080.8,245.2 1063.2,262.8 1045.6,245.2" fill="#008000"/>
<polygon points="1076,187.6 1093.6,205.2 1076,222.8 1058.4,205.2" fill="#008000"/>
<polygon points="1088.8,206.4 1106.4,224 1088.8,241.6 1071.2,224" fill="#008000"/>
<polygon points="1140,183.3 1157.6,200.9 1140,218.5 1122.4,200.9" fill="#008000"/>
<polygon points="1268,197 1285.6,214.6 1268,232.2 1250.4,214.6" fill="#008000"/>
<polygon points="1421.5,183.8 1439.1,201.4 1421.5,219 1403.9,201.4" fill="#008000"/>
<polygon points="1472.7,186.2 1490.3,203.8 1472.7,221.4 1455.1,203.8" fill="#008000"/>
<polygon points="1651.9,197 1669.5,214.6 1651.9,232.2 1634.3,214.6" fill="#008000"/>
<circle cx="1037.6" cy="527.8" r="14.8" fill="#808000"/>
<circle cx="1050.4" cy="347.4" r="14.8" fill="#808000"/>
<circle cx="1063.2" cy="281.5" r="14.8" fill="#808000"/>
<circle cx="1076" cy="252.3" r="14.8" fill="#808000"/>
<circle cx="1088.8" cy="247.6" r="14.8" fill="#808000"/>
<circle cx="1140" cy="226.4" r="14.8" fill="#808000"/>
<circle cx="1268" cy="219.3" r="14.8" fill="#808000"/>
<circle cx="1421.5" cy="216.9" r="14.8" fill="#808000"/>
<circle cx="1472.7" cy="238.1" r="14.8" fill="#808000"/>
<circle cx="1651.9" cy="238.1" r="14.8" fill="#808000"/>
</g>
<g id="panelC">
<path d="M143.4,667.8 H846.9" fill="none" stroke="#000" stroke-width="2.2"/>
<path d="M846.9,667 V1194.6" fill="none" stroke="#000" stroke-width="1.6"/>
<path d="M143.4,667.8 V1194.6 H846.9" fill="none" stroke="#000" stroke-width="2.3" stroke-linecap="square"/>
<path d="M143.4,1185.2h11.5M143.4,1166.4h7M143.4,1147.6h7M143.4,1128.7h7M143.4,1109.9h7M143.4,1091.1h11.5M143.4,1072.3h7M143.4,1053.5h7M143.4,1034.6h7M143.4,1015.8h7M143.4,997h11.5M143.4,978.2h7M143.4,959.4h7M143.4,940.5h7M143.4,921.7h7M143.4,902.9h11.5M143.4,884.1h7M143.4,865.3h7M143.4,846.4h7M143.4,827.6h7M143.4,808.8h11.5M143.4,790h7M143.4,771.2h7M143.4,752.3h7M143.4,733.5h7M143.4,714.7h11.5M143.4,695.9h7M143.4,677.1h7M164.2,1194.6v-11.5M198.3,1194.6v-6.5M232.5,1194.6v-6.5M266.6,1194.6v-6.5M300.7,1194.6v-6.5M334.8,1194.6v-11.5M369,1194.6v-6.5M403.1,1194.6v-6.5M437.2,1194.6v-6.5M471.4,1194.6v-6.5M505.5,1194.6v-11.5M539.6,1194.6v-6.5M573.7,1194.6v-6.5M607.9,1194.6v-6.5M642,1194.6v-6.5M676.1,1194.6v-11.5M710.2,1194.6v-6.5M744.4,1194.6v-6.5M778.5,1194.6v-6.5M812.6,1194.6v-6.5M846.8,1194.6v-11.5" stroke="#000" stroke-width="1.9" fill="none"/>
<text x="123" y="1197.4" text-anchor="end" font-size="36.6">0</text>
<text x="123" y="1103.3" text-anchor="end" font-size="36.6">20</text>
<text x="123" y="1009.2" text-anchor="end" font-size="36.6">40</text>
<text x="123" y="915.1" text-anchor="end" font-size="36.6">60</text>
<text x="123" y="821" text-anchor="end" font-size="36.6">80</text>
<text x="123" y="726.9" text-anchor="end" font-size="36.6">100</text>
<text x="164.2" y="1247.6" text-anchor="middle" font-size="36.6">0</text>
<text x="334.8" y="1247.6" text-anchor="middle" font-size="36.6">400</text>
<text x="505.5" y="1247.6" text-anchor="middle" font-size="36.6">800</text>
<text x="676.1" y="1247.6" text-anchor="middle" font-size="36.6">1200</text>
<text x="846.8" y="1247.6" text-anchor="middle" font-size="36.6">1600</text>
<text x="495.7" y="1300.2" text-anchor="middle" font-size="43.4">Time (min)</text>
<text transform="translate(41.5,930) rotate(-90)" text-anchor="middle" font-size="43.2">Q of chloroform (%)</text>
<text x="205" y="1132.5" font-size="62">(C)</text>
<path d="M164.2,1185.2 C166.3,1153.8 172.7,1032.3 177,997 C181.3,961.7 183.4,980 189.8,973.5 C196.2,967 198.3,960.8 215.4,957.9 C232.5,955 262.3,956.2 292.2,956.1 C322,955.9 369,954.9 394.6,957 C420.2,959.1 390.3,964.3 445.8,968.8 C501.2,973.2 671.9,981.3 727.3,983.8 C782.8,986.3 770,983.8 778.5,983.8" fill="none" stroke="#000000" stroke-width="5.8" stroke-linejoin="round"/>
<path d="M164.2,1185.2 C166.3,1157.4 172.7,1049.5 177,1018.6 C181.3,1012.4 185.5,1006.1 189.8,999.8 C196.2,984.1 198.3,935.1 215.4,924.5 C232.5,914 262.3,934.6 292.2,936.8 C322,939 369,937.3 394.6,937.7 C420.2,938.1 390.3,938.9 445.8,939.1 C501.2,939.3 671.9,938.9 727.3,938.9 C782.8,938.9 770,938.9 778.5,938.9" fill="none" stroke="#ff0000" stroke-width="5.8" stroke-linejoin="round"/>
<path d="M164.2,1185.2 C166.3,1152.4 172.7,1022.4 177,988.5 C181.3,986.3 185.5,984.1 189.8,981.9 C196.2,973.2 198.3,944.1 215.4,936.3 C232.5,928.5 262.3,936.9 292.2,935.4 C322,933.8 369,922.6 394.6,926.9 C420.2,931.2 390.3,957.6 445.8,961.2 C501.2,964.8 671.9,951.3 727.3,948.5 C782.8,945.8 770,945.4 778.5,944.8" fill="none" stroke="#800080" stroke-width="5.8" stroke-linejoin="round"/>
<path d="M164.2,1185.2 C166.3,1179.7 172.7,1183.6 177,1152.3 C181.3,1120.9 183.4,1028.8 189.8,997 C196.2,965.2 198.3,966.1 215.4,961.2 C232.5,956.4 262.3,967.8 292.2,967.8 C322,967.9 369,963.9 394.6,961.7 C420.2,959.5 390.3,956.2 445.8,954.7 C501.2,953.1 671.9,951.9 727.3,952.3 C782.8,952.7 770,956.2 778.5,957" fill="none" stroke="#0000ff" stroke-width="5.8" stroke-linejoin="round"/>
<path d="M164.2,1185.2 C166.3,1175 172.7,1156.7 177,1124 C181.3,1091.4 183.4,1019.7 189.8,989.5 C196.2,959.2 198.3,948.1 215.4,942.4 C232.5,936.7 262.3,953.3 292.2,955.1 C322,956.9 369,954.2 394.6,953.2 C420.2,952.3 390.3,950 445.8,949.5 C501.2,948.9 671.9,949.9 727.3,950 C782.8,950 770,950 778.5,950" fill="none" stroke="#ff00ff" stroke-width="5.8" stroke-linejoin="round"/>
<path d="M164.2,1185.2 C166.3,1153.9 172.7,1037 177,997.5 C181.3,957.9 183.4,957.2 189.8,948.1 C196.2,938.9 198.3,939.7 215.4,942.4 C232.5,945.2 262.3,963.5 292.2,964.5 C322,965.6 369,947.9 394.6,948.5 C420.2,949.2 390.3,964.5 445.8,968.3 C501.2,972.1 671.9,970.7 727.3,971.1 C782.8,971.6 770,971.1 778.5,971.1" fill="none" stroke="#00ffff" stroke-width="5.8" stroke-linejoin="round"/>
<path d="M164.2,1185.2 C166.3,1158 172.7,1053 177,1021.9 C181.3,990.9 183.4,1003.7 189.8,998.9 C196.2,994.1 198.3,998.1 215.4,993 C232.5,987.9 262.3,970.3 292.2,968.3 C322,966.3 369,978.3 394.6,981 C420.2,983.7 390.3,980.4 445.8,984.5 C501.2,988.7 671.9,1002.3 727.3,1005.9 C782.8,1009.6 770,1006.3 778.5,1006.4" fill="none" stroke="#800000" stroke-width="5.8" stroke-linejoin="round"/>
<path d="M164.2,1185.2 C166.3,1152.3 172.7,1020 177,987.6 C181.3,955.2 183.4,993.2 189.8,990.9 C196.2,988.6 198.3,976.1 215.4,973.9 C232.5,971.8 262.3,976.1 292.2,978.2 C322,980.3 369,986.8 394.6,986.6 C420.2,986.5 390.3,978.7 445.8,977.2 C501.2,975.8 671.9,978 727.3,978.2 C782.8,978.3 770,978.2 778.5,978.2" fill="none" stroke="#008000" stroke-width="5.8" stroke-linejoin="round"/>
<path d="M164.2,1185.2 C166.3,1157.6 172.7,1055.8 177,1019.6 C181.3,983.4 183.4,982.5 189.8,967.8 C196.2,953.2 198.3,937.6 215.4,931.6 C232.5,925.6 262.3,930.9 292.2,931.6 C322,932.3 369,936.2 394.6,935.8 C420.2,935.4 390.3,930.4 445.8,929.2 C501.2,928.1 671.9,928.9 727.3,928.8 C782.8,928.7 770,928.8 778.5,928.8" fill="none" stroke="#808000" stroke-width="5.8" stroke-linejoin="round"/>
<circle cx="164.2" cy="1185.2" r="14.8" fill="#000000"/>
<circle cx="177" cy="997" r="14.8" fill="#000000"/>
<circle cx="189.8" cy="973.5" r="14.8" fill="#000000"/>
<circle cx="215.4" cy="957.9" r="14.8" fill="#000000"/>
<circle cx="292.2" cy="956.1" r="14.8" fill="#000000"/>
<circle cx="394.6" cy="957" r="14.8" fill="#000000"/>
<circle cx="445.8" cy="968.8" r="14.8" fill="#000000"/>
<circle cx="727.3" cy="983.8" r="14.8" fill="#000000"/>
<circle cx="778.5" cy="983.8" r="14.8" fill="#000000"/>
<polygon points="164.2,1203.3 179.9,1176.1 148.5,1176.1" fill="#ff0000"/>
<polygon points="177,1036.8 192.7,1009.6 161.3,1009.6" fill="#ff0000"/>
<polygon points="189.8,1018 205.5,990.8 174.1,990.8" fill="#ff0000"/>
<polygon points="215.4,942.7 231.1,915.5 199.7,915.5" fill="#ff0000"/>
<polygon points="292.2,954.9 307.9,927.7 276.5,927.7" fill="#ff0000"/>
<polygon points="394.6,955.8 410.3,928.7 378.9,928.7" fill="#ff0000"/>
<polygon points="445.8,957.3 461.5,930.1 430.1,930.1" fill="#ff0000"/>
<polygon points="727.3,957 743,929.8 711.6,929.8" fill="#ff0000"/>
<polygon points="778.5,957 794.2,929.8 762.8,929.8" fill="#ff0000"/>
<polygon points="164.2,1167.1 179.9,1194.3 148.5,1194.3" fill="#800080"/>
<polygon points="177,970.4 192.7,997.6 161.3,997.6" fill="#800080"/>
<polygon points="189.8,963.8 205.5,991 174.1,991" fill="#800080"/>
<polygon points="215.4,918.2 231.1,945.4 199.7,945.4" fill="#800080"/>
<polygon points="292.2,917.2 307.9,944.4 276.5,944.4" fill="#800080"/>
<polygon points="394.6,908.8 410.3,936 378.9,936" fill="#800080"/>
<polygon points="445.8,943.1 461.5,970.3 430.1,970.3" fill="#800080"/>
<polygon points="727.3,930.4 743,957.6 711.6,957.6" fill="#800080"/>
<polygon points="778.5,926.6 794.2,953.8 762.8,953.8" fill="#800080"/>
<polygon points="157.9,1172 170.5,1172 170.5,1178.9 177.4,1178.9 177.4,1191.5 170.5,1191.5 170.5,1198.4 157.9,1198.4 157.9,1191.5 151,1191.5 151,1178.9 157.9,1178.9" fill="#0000ff"/>
<polygon points="170.7,1139.1 183.3,1139.1 183.3,1146 190.2,1146 190.2,1158.6 183.3,1158.6 183.3,1165.5 170.7,1165.5 170.7,1158.6 163.8,1158.6 163.8,1146 170.7,1146" fill="#0000ff"/>
<polygon points="183.5,983.8 196.1,983.8 196.1,990.7 203,990.7 203,1003.3 196.1,1003.3 196.1,1010.2 183.5,1010.2 183.5,1003.3 176.6,1003.3 176.6,990.7 183.5,990.7" fill="#0000ff"/>
<polygon points="209.1,948 221.7,948 221.7,954.9 228.6,954.9 228.6,967.5 221.7,967.5 221.7,974.4 209.1,974.4 209.1,967.5 202.2,967.5 202.2,954.9 209.1,954.9" fill="#0000ff"/>
<polygon points="285.9,954.6 298.5,954.6 298.5,961.5 305.4,961.5 305.4,974.1 298.5,974.1 298.5,981 285.9,981 285.9,974.1 279,974.1 279,961.5 285.9,961.5" fill="#0000ff"/>
<polygon points="388.3,948.5 400.9,948.5 400.9,955.4 407.8,955.4 407.8,968 400.9,968 400.9,974.9 388.3,974.9 388.3,968 381.4,968 381.4,955.4 388.3,955.4" fill="#0000ff"/>
<polygon points="439.5,941.5 452.1,941.5 452.1,948.4 459,948.4 459,961 452.1,961 452.1,967.9 439.5,967.9 439.5,961 432.6,961 432.6,948.4 439.5,948.4" fill="#0000ff"/>
<polygon points="721,939.1 733.6,939.1 733.6,946 740.5,946 740.5,958.6 733.6,958.6 733.6,965.5 721,965.5 721,958.6 714.1,958.6 714.1,946 721,946" fill="#0000ff"/>
<polygon points="772.2,943.8 784.8,943.8 784.8,950.7 791.7,950.7 791.7,963.3 784.8,963.3 784.8,970.2 772.2,970.2 772.2,963.3 765.3,963.3 765.3,950.7 772.2,950.7" fill="#0000ff"/>
<rect x="151.2" y="1172.2" width="26" height="26" fill="#ff00ff"/>
<rect x="164" y="1111" width="26" height="26" fill="#ff00ff"/>
<rect x="176.8" y="976.5" width="26" height="26" fill="#ff00ff"/>
<rect x="202.4" y="929.4" width="26" height="26" fill="#ff00ff"/>
<rect x="279.2" y="942.1" width="26" height="26" fill="#ff00ff"/>
<rect x="381.6" y="940.2" width="26" height="26" fill="#ff00ff"/>
<rect x="432.8" y="936.5" width="26" height="26" fill="#ff00ff"/>
<rect x="714.3" y="937" width="26" height="26" fill="#ff00ff"/>
<rect x="765.5" y="937" width="26" height="26" fill="#ff00ff"/>
<rect x="151.2" y="1172.2" width="26" height="26" fill="#00ffff"/>
<rect x="164" y="984.5" width="26" height="26" fill="#00ffff"/>
<rect x="176.8" y="935.1" width="26" height="26" fill="#00ffff"/>
<rect x="202.4" y="929.4" width="26" height="26" fill="#00ffff"/>
<rect x="279.2" y="951.5" width="26" height="26" fill="#00ffff"/>
<rect x="381.6" y="935.5" width="26" height="26" fill="#00ffff"/>
<rect x="432.8" y="955.3" width="26" height="26" fill="#00ffff"/>
<rect x="714.3" y="958.1" width="26" height="26" fill="#00ffff"/>
<rect x="765.5" y="958.1" width="26" height="26" fill="#00ffff"/>
<rect x="151.2" y="1172.2" width="26" height="26" fill="#800000"/>
<rect x="164" y="1008.9" width="26" height="26" fill="#800000"/>
<rect x="176.8" y="985.9" width="26" height="26" fill="#800000"/>
<rect x="202.4" y="980" width="26" height="26" fill="#800000"/>
<rect x="279.2" y="955.3" width="26" height="26" fill="#800000"/>
<rect x="381.6" y="968" width="26" height="26" fill="#800000"/>
<rect x="432.8" y="971.5" width="26" height="26" fill="#800000"/>
<rect x="714.3" y="992.9" width="26" height="26" fill="#800000"/>
<rect x="765.5" y="993.4" width="26" height="26" fill="#800000"/>
<polygon points="164.2,1167.6 181.8,1185.2 164.2,1202.8 146.6,1185.2" fill="#008000"/>
<polygon points="177,970 194.6,987.6 177,1005.2 159.4,987.6" fill="#008000"/>
<polygon points="189.8,973.3 207.4,990.9 189.8,1008.5 172.2,990.9" fill="#008000"/>
<polygon points="215.4,956.3 233,973.9 215.4,991.5 197.8,973.9" fill="#008000"/>
<polygon points="292.2,960.6 309.8,978.2 292.2,995.8 274.6,978.2" fill="#008000"/>
<polygon points="394.6,969 412.2,986.6 394.6,1004.2 377,986.6" fill="#008000"/>
<polygon points="445.8,959.6 463.4,977.2 445.8,994.8 428.2,977.2" fill="#008000"/>
<polygon points="727.3,960.6 744.9,978.2 727.3,995.8 709.7,978.2" fill="#008000"/>
<polygon points="778.5,960.6 796.1,978.2 778.5,995.8 760.9,978.2" fill="#008000"/>
<circle cx="164.2" cy="1185.2" r="14.8" fill="#808000"/>
<circle cx="177" cy="1019.6" r="14.8" fill="#808000"/>
<circle cx="189.8" cy="967.8" r="14.8" fill="#808000"/>
<circle cx="215.4" cy="931.6" r="14.8" fill="#808000"/>
<circle cx="292.2" cy="931.6" r="14.8" fill="#808000"/>
<circle cx="394.6" cy="935.8" r="14.8" fill="#808000"/>
<circle cx="445.8" cy="929.2" r="14.8" fill="#808000"/>
<circle cx="727.3" cy="928.8" r="14.8" fill="#808000"/>
<circle cx="778.5" cy="928.8" r="14.8" fill="#808000"/>
</g>
<g id="panelD">
<path d="M1023.1,667.8 H1727.4" fill="none" stroke="#000" stroke-width="2.2"/>
<path d="M1727.4,667 V1194.6" fill="none" stroke="#000" stroke-width="1.6"/>
<path d="M1023.1,667.8 V1194.6 H1727.4" fill="none" stroke="#000" stroke-width="2.3" stroke-linecap="square"/>
<path d="M1023.1,1185.2h11.5M1023.1,1166.4h7M1023.1,1147.6h7M1023.1,1128.7h7M1023.1,1109.9h7M1023.1,1091.1h11.5M1023.1,1072.3h7M1023.1,1053.5h7M1023.1,1034.6h7M1023.1,1015.8h7M1023.1,997h11.5M1023.1,978.2h7M1023.1,959.4h7M1023.1,940.5h7M1023.1,921.7h7M1023.1,902.9h11.5M1023.1,884.1h7M1023.1,865.3h7M1023.1,846.4h7M1023.1,827.6h7M1023.1,808.8h11.5M1023.1,790h7M1023.1,771.2h7M1023.1,752.3h7M1023.1,733.5h7M1023.1,714.7h11.5M1023.1,695.9h7M1023.1,677.1h7M1042.9,1194.6v-6.5M1063,1194.6v-11.5M1083.1,1194.6v-6.5M1103.2,1194.6v-6.5M1123.4,1194.6v-6.5M1143.5,1194.6v-6.5M1163.6,1194.6v-11.5M1183.7,1194.6v-6.5M1203.9,1194.6v-6.5M1224,1194.6v-6.5M1244.1,1194.6v-6.5M1264.2,1194.6v-11.5M1284.4,1194.6v-6.5M1304.5,1194.6v-6.5M1324.6,1194.6v-6.5M1344.7,1194.6v-6.5M1364.8,1194.6v-11.5M1385,1194.6v-6.5M1405.1,1194.6v-6.5M1425.2,1194.6v-6.5M1445.3,1194.6v-6.5M1465.5,1194.6v-11.5M1485.6,1194.6v-6.5M1505.7,1194.6v-6.5M1525.8,1194.6v-6.5M1546,1194.6v-6.5M1566.1,1194.6v-11.5M1586.2,1194.6v-6.5M1606.3,1194.6v-6.5M1626.4,1194.6v-6.5M1646.6,1194.6v-6.5M1666.7,1194.6v-11.5M1686.8,1194.6v-6.5M1706.9,1194.6v-6.5" stroke="#000" stroke-width="1.9" fill="none"/>
<text x="1004.5" y="1197.4" text-anchor="end" font-size="37">0</text>
<text x="1004.5" y="1103.3" text-anchor="end" font-size="37">20</text>
<text x="1004.5" y="1009.2" text-anchor="end" font-size="37">40</text>
<text x="1004.5" y="915.1" text-anchor="end" font-size="37">60</text>
<text x="1004.5" y="821" text-anchor="end" font-size="37">80</text>
<text x="1004.5" y="726.9" text-anchor="end" font-size="37">100</text>
<text x="1063" y="1246.4" text-anchor="middle" font-size="37">0</text>
<text x="1163.6" y="1246.4" text-anchor="middle" font-size="37">50</text>
<text x="1264.2" y="1246.4" text-anchor="middle" font-size="37">100</text>
<text x="1364.8" y="1246.4" text-anchor="middle" font-size="37">150</text>
<text x="1465.5" y="1246.4" text-anchor="middle" font-size="37">200</text>
<text x="1566.1" y="1246.4" text-anchor="middle" font-size="37">250</text>
<text x="1666.7" y="1246.4" text-anchor="middle" font-size="37">300</text>
<text x="1375" y="1299.8" text-anchor="middle" font-size="43.4">Irradiation dose (kGy)</text>
<text transform="translate(919.5,930) rotate(-90)" text-anchor="middle" font-size="42.6">Swelling coefficient Q (%)</text>
<text x="1056" y="1141.5" font-size="62">(D)</text>
<path d="M1063,741.8 L1666.7,741.8" stroke="#000" stroke-width="8.5" fill="none"/>
<path d="M1063,874.2 L1666.7,896.3" stroke="#f00" stroke-width="9.5" fill="none"/>
<path d="M1063,965.9 L1666.7,958.9" stroke="#00f" stroke-width="9.5" fill="none" stroke-linecap="round"/>
<circle cx="1063" cy="742" r="14.5" fill="#000"/>
<circle cx="1083.1" cy="743.4" r="14.5" fill="#000"/>
<circle cx="1123.4" cy="728.8" r="14.5" fill="#000"/>
<circle cx="1163.6" cy="760.8" r="14.5" fill="#000"/>
<circle cx="1203.9" cy="749.5" r="14.5" fill="#000"/>
<circle cx="1264.2" cy="734.9" r="14.5" fill="#000"/>
<circle cx="1364.8" cy="729.8" r="14.5" fill="#000"/>
<circle cx="1465.5" cy="739.2" r="14.5" fill="#000"/>
<circle cx="1666.7" cy="747.6" r="14.5" fill="#000"/>
<polygon points="1063,869.3 1078.2,895.7 1047.8,895.7" fill="#f00"/>
<polygon points="1083.1,872.6 1098.4,899 1067.9,899" fill="#f00"/>
<polygon points="1123.4,825.1 1138.6,851.5 1108.1,851.5" fill="#f00"/>
<polygon points="1163.6,850 1178.8,876.4 1148.4,876.4" fill="#f00"/>
<polygon points="1203.9,875 1219.1,901.3 1188.6,901.3" fill="#f00"/>
<polygon points="1264.2,869.3 1279.5,895.7 1249,895.7" fill="#f00"/>
<polygon points="1364.8,887.2 1380.1,913.6 1349.6,913.6" fill="#f00"/>
<polygon points="1465.5,855.2 1480.7,881.6 1450.2,881.6" fill="#f00"/>
<polygon points="1666.7,877.8 1681.9,904.2 1651.5,904.2" fill="#f00"/>
<rect x="1049.7" y="969.2" width="26.5" height="26.5" fill="#00f"/>
<rect x="1069.9" y="925.4" width="26.5" height="26.5" fill="#00f"/>
<rect x="1110.1" y="937.2" width="26.5" height="26.5" fill="#00f"/>
<rect x="1150.4" y="960.2" width="26.5" height="26.5" fill="#00f"/>
<rect x="1190.6" y="936.7" width="26.5" height="26.5" fill="#00f"/>
<rect x="1251" y="955" width="26.5" height="26.5" fill="#00f"/>
<rect x="1351.6" y="992.2" width="26.5" height="26.5" fill="#00f"/>
<rect x="1452.2" y="963.5" width="26.5" height="26.5" fill="#00f"/>
<rect x="1653.4" y="915.5" width="26.5" height="26.5" fill="#00f"/>
<circle cx="1229" cy="1051.2" r="16" fill="#000"/>
<polygon points="1229,1087.6 1245,1115.3 1213,1115.3" fill="#f00"/>
<rect x="1216.4" y="1146.5" width="26" height="26" fill="#00f"/>
<text x="1303" y="1065.8" font-size="42.6">Toluene</text>
<text x="1303" y="1119.2" font-size="42.6" style="fill:#f00">Benzene</text>
<text x="1303" y="1172.6" font-size="42.6" style="fill:#0808a8">Chloroform</text>
</g>
</svg></body></html>
